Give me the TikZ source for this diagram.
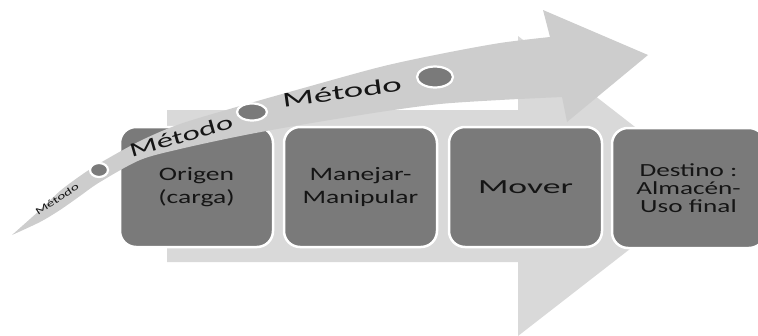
\documentclass[tikz,border=0pt]{standalone}
\usepackage{fontspec}
\setmainfont{Carlito}
\newfontfamily\stagefont[FakeStretch=1.45]{Carlito}
\newfontfamily\moverfont[FakeStretch=1.78]{Carlito}
\newfontfamily\destfont[FakeStretch=1.47]{Carlito}
\newfontfamily\bandfontA[FakeStretch=1.53]{Carlito}
\newfontfamily\bandfontB[FakeStretch=1.64]{Carlito}
\newfontfamily\bandfontC[FakeStretch=1.76]{Carlito}
\usetikzlibrary{shapes.geometric}
\definecolor{flowgray}{HTML}{D9D9D9}
\definecolor{bandgray}{HTML}{CDCDCD}
\definecolor{stagegray}{HTML}{7A7A7A}
\definecolor{inkgray}{HTML}{151515}
\tikzset{
  stagebox/.style={rectangle, rounded corners=16pt, fill=stagegray, draw=white,
    line width=2.5pt, minimum width=153pt, minimum height=120pt, inner sep=0pt,
    text=inkgray, align=center},
  bandlabel/.style={inner sep=0pt, text=inkgray},
  bandmark/.style={ellipse, fill=stagegray, draw=white, line width=2.2pt, inner sep=0pt}
}
\begin{document}
\begin{tikzpicture}[x=1pt,y=-1pt]
\useasboundingbox (0,0) rectangle (758,335);
\clip (0,0) rectangle (758,335);

% wide straight arrow in the background
\fill[flowgray] (167,110) -- (518,110) -- (518,36) -- (711,186) -- (518,336)
  -- (518,262) -- (167,262) -- cycle;

% the four stages
\node[stagebox, font=\stagefont\fontsize{19}{23}\selectfont] (origen) at (196.5,187) {Origen\\(carga)};
\node[stagebox, font=\stagefont\fontsize{19}{23}\selectfont] (manejar) at (360.5,187) {Manejar-\\Manipular};
\node[stagebox, font=\moverfont\fontsize{20}{24}\selectfont] (mover) at (525.5,187) {Mover};
\node[stagebox, font=\destfont\fontsize{18.5}{18}\selectfont] (destino) at (688.5,188) {Destino :\\Almacén-\\Uso final};

% curved tapering arrow across the top
\fill[bandgray] (12,235) -- plot[smooth] coordinates {(12,235) (40,210) (60,191) (80,176)
   (100,163) (140,141) (180,124) (240,106) (300,89) (380,67) (440,54) (500,43) (550,37)}
  -- (543,10) -- (648,55) -- (567,122) -- (562,97)
  -- plot[smooth] coordinates {(562,97) (500,100) (440,104) (380,112) (300,125) (240,136)
   (180,149) (140,160) (100,182) (80,196) (60,210) (40,222) (12,235)} -- cycle;

% markers on the curved arrow
\node[bandmark, minimum width=18pt, minimum height=14pt] (mark1) at (99,170) {};
\node[bandmark, minimum width=30pt, minimum height=17pt] (mark2) at (252,112) {};
\node[bandmark, minimum width=36pt, minimum height=21pt] (mark3) at (435,77) {};

% labels along the curved arrow
\node[bandlabel, rotate=33, font=\bandfontA\fontsize{10}{10}\selectfont] (met1) at (57,199) {Método};
\node[bandlabel, rotate=16, font=\bandfontB\fontsize{20}{20}\selectfont] (met2) at (181,136) {Método};
\node[bandlabel, rotate=8, font=\bandfontC\fontsize{21}{21}\selectfont] (met3) at (342,92) {Método};
\end{tikzpicture}
\end{document}
